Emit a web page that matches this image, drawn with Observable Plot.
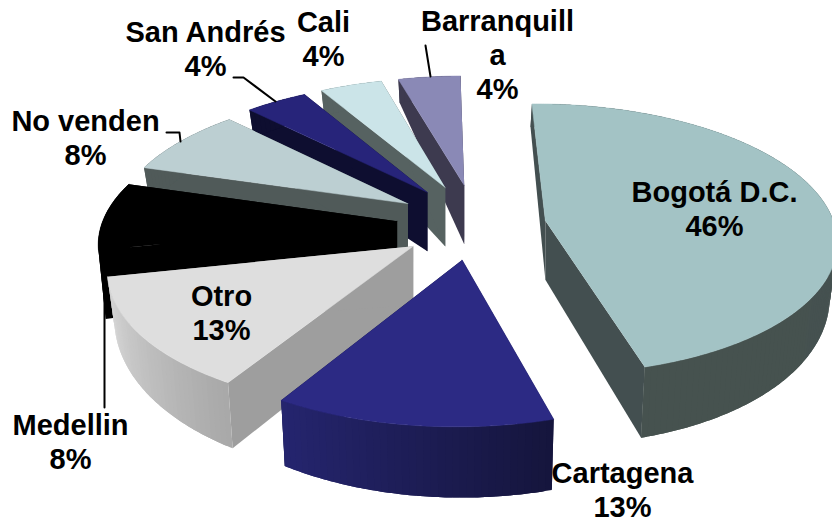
<!doctype html><html><head><meta charset="utf-8">
<script src="https://cdn.jsdelivr.net/npm/d3@7"></script>
<script src="https://cdn.jsdelivr.net/npm/@observablehq/plot@0.6"></script>
<style>html,body{margin:0;background:#fff;overflow:hidden}svg{display:block}</style></head><body><div id="c"></div>
<script>
// data
const categories=["Bogotá D.C.","Cartagena","Otro","Medellin","No venden","San Andrés","Cali","Barranquilla"];
const values=[46,13,13,8,8,4,4,4];
const labelLines=["Bogotá D.C.","Cartagena","Otro","Medellin","No venden","San Andrés","Cali","Barranquill\na"];
// style
const topColors=["#a3c3c5","#2c2a84","#dedede","#000000","#bccfd2","#27247a","#cbe4e8","#8a89b6"];
const cutColors=["#434f50","#15153c","#9e9e9e","#000000","#505a59","#0e0e30","#566261","#3d3a4f"];
const wallStart=["#445051","#15153c","#a8a8a8","#000000","#505a59","#0e0e30","#566261","#3d3a4f"];
const wallEnd=["#46524f","#25256f","#dadada","#000000","#505a59","#0e0e30","#566261","#3d3a4f"];
const wallExtra=[0,0,0,20,0,0,0,0];
const paintOrder=[7,6,5,4,3,2,1,0];
// camera fitted to the picture: homography from pie plane to the page
const H=[298.54,24.646,444.81,-12.031,-101.88,213.47,0.024691,0.13119];
const startAngle=0.11038;
const explodeX=[.335,.016,-.134,-.170,-.120,-.043,.024,.093];
const explodeY=[-.097,-.341,-.222,-.033,.097,.176,.206,.215];
const labelX=[714,622,221,70,85,205,323,497],labelY=[208,489,312,441,137,48,38,54];
const leaders=[
 [[104,290],[104,407]],
 [[233,77],[243,77],[275,101]],
 [[166,132],[179,132],[180,141]],
 [[425,45],[430,76]]];

function proj(X,Y){const w=H[6]*X+H[7]*Y+1;return[(H[0]*X+H[1]*Y+H[2])/w,(H[3]*X+H[4]*Y+H[5])/w]}
const total=d3.sum(values);
const cum=d3.cumsum(values);
function angle(i,t){return startAngle+2*Math.PI*((cum[i]-values[i])+t*values[i])/total}
function drop(i,p,r,th){const h=59+r*(-12-24*Math.cos(th)+wallExtra[i]);return[p[0]+(460-p[0])*.02*r,p[1]+h]}
const polys=[];let pid=0;
function poly(pts,fill,stroke){const id=pid++;pts.forEach(q=>polys.push({id,x:q[0],y:q[1],fill,stroke}))}
for(const i of paintOrder){
 const ox=explodeX[i],oy=explodeY[i],n=Math.max(12,Math.round(values[i]*3));
 const A=proj(ox,oy),A2=drop(i,A,0,0);
 const rimPt=t=>{const th=angle(i,t);return proj(ox+Math.sin(th),oy+Math.cos(th))};
 const S=rimPt(0),E=rimPt(1);
 poly([A,S,drop(i,S,1,angle(i,0)),A2],cutColors[i],"none");
 poly([A,E,drop(i,E,1,angle(i,1)),A2],cutColors[i],"none");
 const c=d3.interpolateRgb(wallStart[i],wallEnd[i]);
 for(let k=0;k<n;k++){const t0=k/n,t1=Math.min(1,(k+2)/n);
  const pts=[];for(let j=0;j<=4;j++)pts.push(rimPt(t0+(t1-t0)*j/4));
  for(let j=4;j>=0;j--){const t=t0+(t1-t0)*j/4;pts.push(drop(i,rimPt(t),1,angle(i,t)))}
  poly(pts,c((k+.5)/n),"none")}
 const surf=[A];for(let k=0;k<=n*3;k++)surf.push(rimPt(k/(n*3)));
 poly(surf,topColors[i],topColors[i]);
}
const labels=categories.map((d,i)=>({text:labelLines[i]+"\n"+values[i]+"%",x:labelX[i],y:labelY[i]}));
const lead=leaders.flatMap((l,id)=>l.map(q=>({id,x:q[0],y:q[1]})));
const chart=Plot.plot({width:832,height:522,margin:0,
 x:{domain:[0,832],range:[0,832],axis:null},y:{domain:[0,522],range:[0,522],axis:null},
 marks:[
  Plot.line(polys,{x:"x",y:"y",z:"id",fill:{value:"fill",scale:null},stroke:{value:"stroke",scale:null},strokeWidth:.5}),
  Plot.line(lead,{x:"x",y:"y",z:"id",stroke:"#000",strokeWidth:2}),
  Plot.text(labels,{x:"x",y:"y",text:"text",fontFamily:"Liberation Sans",fontWeight:"bold",fontSize:29,lineHeight:1.17,lineAnchor:"middle",textAnchor:"middle",fill:"#000"})
 ]});
chart.style.background="#fff";
document.getElementById("c").append(chart);
</script></body></html>
